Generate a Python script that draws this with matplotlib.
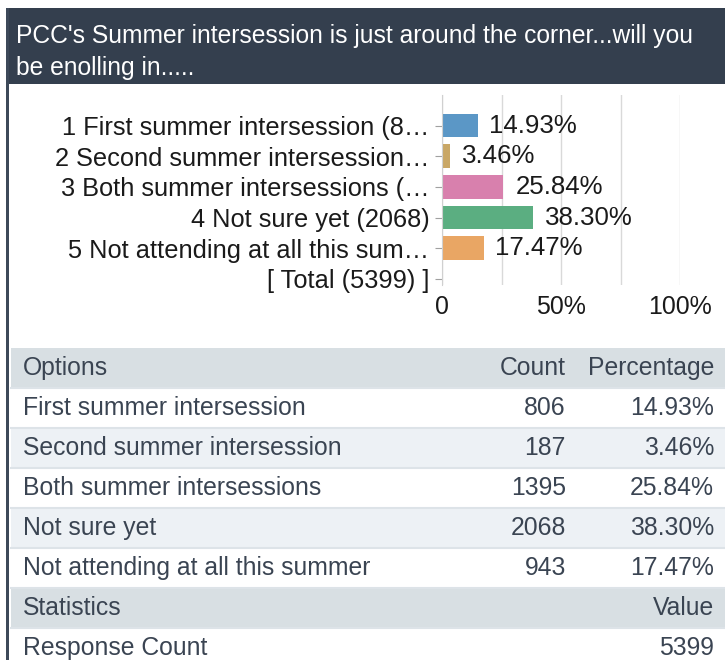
import matplotlib
matplotlib.use("Agg")
import matplotlib.pyplot as plt
from matplotlib.patches import Rectangle

plt.rcParams['font.family'] = ['Liberation Sans', 'DejaVu Sans']

title_lines = ["PCC's Summer intersession is just around the corner...will you",
               "be enolling in....."]
tick_labels = ["1 First summer intersession (8\u2026",
               "2 Second summer intersession\u2026",
               "3 Both summer intersessions (\u2026",
               "4 Not sure yet (2068)",
               "5 Not attending at all this sum\u2026",
               "[ Total (5399) ]"]
options = ["First summer intersession", "Second summer intersession",
           "Both summer intersessions", "Not sure yet",
           "Not attending at all this summer"]
counts = [806, 187, 1395, 2068, 943]
percents = [14.93, 3.46, 25.84, 38.30, 17.47]
total = 5399
bar_colors = ["#5b97c6", "#c9a766", "#d880ad", "#5bae81", "#e9a664"]

W, H = 725, 660
fig = plt.figure(figsize=(W / 100, H / 100), dpi=100)

# background canvas in pixel coordinates
bg = fig.add_axes([0, 0, 1, 1])
bg.set_xlim(0, W)
bg.set_ylim(H, 0)
bg.axis('off')

dark = "#343f4e"
bg.add_patch(Rectangle((7, 8), W - 7, 76, color=dark, lw=0))
bg.add_patch(Rectangle((6.5, 8), 2.5, H - 8, color="#3d4959", lw=0))
for k, line in enumerate(title_lines):
    bg.text(16, 35.5 + 33 * k, line, color="white", fontsize=17.7, va='center', ha='left')

# table
txt = "#3a4452"
row_h = 40
y0 = 348
x_left, x_right = 11, W
rows = [("Options", "Count", "Percentage", "#d8dfe3")]
for i, (o, c, p) in enumerate(zip(options, counts, percents)):
    rows.append((o, str(c), f"{p:.2f}%", "#ffffff" if i % 2 == 0 else "#edf1f5"))
rows.append(("Statistics", "", "Value", "#d8dfe3"))
rows.append(("Response Count", "", str(total), "#ffffff"))
for k, (a, b, c, col) in enumerate(rows):
    top = y0 + k * row_h
    bg.add_patch(Rectangle((x_left, top), x_right - x_left, row_h, color=col, lw=0))
    if k > 0:
        bg.plot([x_left, x_right], [top, top], color="#dde3e8", lw=1.5)
    yc = top + row_h / 2
    bg.text(23, yc, a, color=txt, fontsize=17.8, va='center', ha='left')
    if b:
        bg.text(566, yc, b, color=txt, fontsize=17.8, va='center', ha='right')
    bg.text(714, yc, c, color=txt, fontsize=17.8, va='center', ha='right')

# bar chart
ax = fig.add_axes([442 / W, 1 - 285 / H, 238 / W, 190 / H])
ypos = list(range(len(tick_labels)))
ax.barh(ypos[:len(percents)], percents, height=0.77, color=bar_colors, zorder=2)
for y, p in zip(ypos, percents):
    ax.text(p + 5, y, f"{p:.2f}%", va='center', ha='left', fontsize=18.6, color="#1a1a1a")
ax.set_xlim(0, 100)
ax.set_ylim(5.2, -1.0)
ax.set_yticks(ypos)
ax.set_yticklabels(tick_labels, fontsize=18.3, color="#1a1a1a")
ax.set_xticks([0, 50, 100])
ax.set_xticklabels(["0", "50%", "100%"], fontsize=17.9, color="#1a1a1a")
ax.set_xticks([25, 75], minor=True)
ax.grid(axis='x', which='both', color="#d9d9d9", lw=1, zorder=0)
for s in ['top', 'right', 'bottom']:
    ax.spines[s].set_visible(False)
ax.spines['left'].set_color("#d0d0d0")
ax.tick_params(axis='y', length=5, color="#a0a0a0", pad=4)
ax.tick_params(axis='x', which='both', length=0, pad=7)

fig.savefig("out.png", dpi=100)
